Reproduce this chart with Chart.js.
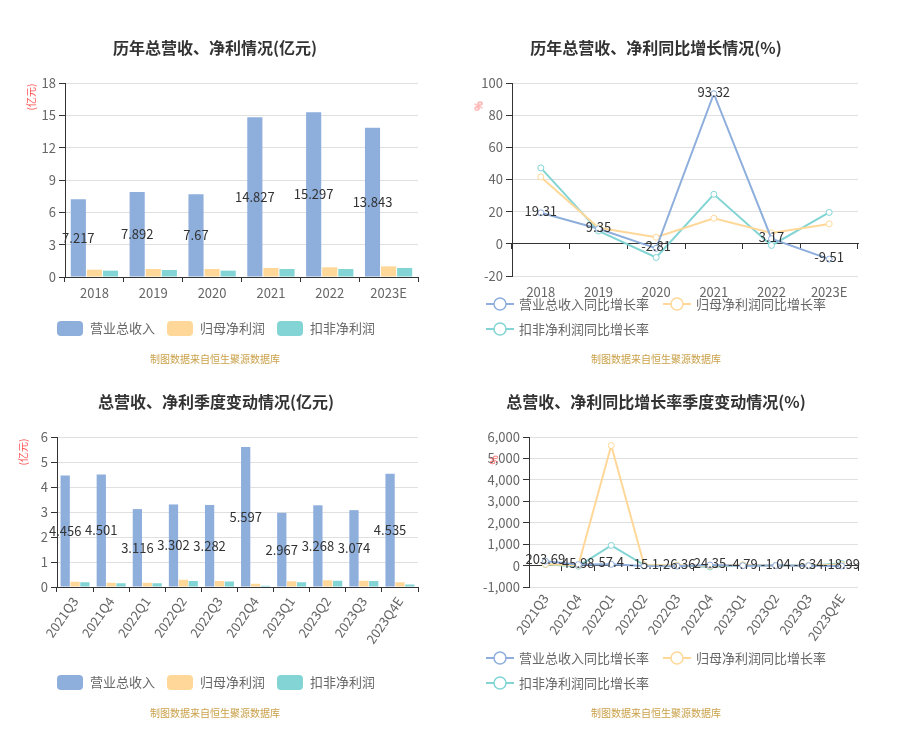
<!DOCTYPE html>
<html>
<head>
<meta charset="utf-8">
<script src="https://cdn.jsdelivr.net/npm/chart.js@4.4.0/dist/chart.umd.min.js"></script>
<style>
  html, body { margin: 0; padding: 0; background: #fff; }
  body { width: 903px; height: 729px; position: relative; overflow: hidden;
         font-family: "Noto Sans CJK SC", "Noto Sans", sans-serif; }
  canvas { position: absolute; }
  .title { position: absolute; font-weight: bold; font-size: 16px; color: #333; white-space: nowrap; transform: translate(-50%, -50%); }
  .src { position: absolute; font-size: 10px; color: #c9a048; white-space: nowrap; transform: translate(-50%, -50%); }
  .unit { position: absolute; font-size: 10px; color: #ff5050; white-space: nowrap; transform: translate(-50%, -50%) rotate(-90deg); }
  .lg { position: absolute; font-size: 13px; color: #666; white-space: nowrap; line-height: 16px; }
  .box { position: absolute; width: 26px; height: 15px; border-radius: 4px; }
  .icon { position: absolute; }
</style>
</head>
<body>
<canvas id="c1" width="450" height="365" style="left:0;top:0;width:450px;height:365px"></canvas>
<canvas id="c2" width="453" height="365" style="left:450px;top:0;width:453px;height:365px"></canvas>
<canvas id="c3" width="450" height="364" style="left:0;top:365px;width:450px;height:364px"></canvas>
<canvas id="c4" width="453" height="364" style="left:450px;top:365px;width:453px;height:364px"></canvas>
<div id="overlay"></div>
<script>
// ---------- data ----------
const years = ['2018', '2019', '2020', '2021', '2022', '2023E'];
const yearRevenue = [7.217, 7.892, 7.67, 14.827, 15.297, 13.843];
const yearNetProfit = [0.68, 0.74, 0.74, 0.84, 0.90, 0.99];
const yearDeductedProfit = [0.59, 0.65, 0.59, 0.74, 0.74, 0.84];

const yearRevenueGrowth = [19.31, 9.35, -2.81, 93.32, 3.17, -9.51];
const yearNetProfitGrowth = [41.6, 10.0, 4.1, 15.9, 6.8, 12.4];
const yearDeductedGrowth = [47.2, 8.0, -8.5, 30.8, -1.0, 19.5];

const quarters = ['2021Q3', '2021Q4', '2022Q1', '2022Q2', '2022Q3', '2022Q4', '2023Q1', '2023Q2', '2023Q3', '2023Q4E'];
const qRevenue = [4.456, 4.501, 3.116, 3.302, 3.282, 5.597, 2.967, 3.268, 3.074, 4.535];
const qNetProfit = [0.21, 0.17, 0.17, 0.29, 0.24, 0.13, 0.23, 0.27, 0.25, 0.19];
const qDeductedProfit = [0.19, 0.15, 0.15, 0.24, 0.22, 0.05, 0.19, 0.25, 0.24, 0.10];

const qRevenueGrowth = [203.69, 45.98, 57.4, -15.1, -26.36, 24.35, -4.79, -1.04, -6.34, -18.99];
const qNetProfitGrowth = [60, 20, 5600, 30, 14, -24, 35, -7, 4, 46];
const qDeductedGrowth = [50, -30, 940, 26, 16, -67, 27, 4, 9, 100];

const yTicks1 = { min: 0, max: 18, step: 3 };
const yTicks2 = { min: -20, max: 100, step: 20 };
const yTicks3 = { min: 0, max: 6, step: 1 };
const yTicks4 = { min: -1000, max: 6000, step: 1000 };

// ---------- styles ----------
const BLUE = '#8eaedc', ORANGE = '#ffd899', TEAL = '#82d5d4';
const FONT = '"Noto Sans CJK SC", "Noto Sans", sans-serif';
Chart.defaults.font.family = FONT;
Chart.defaults.font.size = 13;
Chart.defaults.color = '#666';

const valueLabels = {
  id: 'valueLabels',
  afterDatasetsDraw(chart, args, opts) {
    const meta = chart.getDatasetMeta(0);
    const data = chart.data.datasets[0].data;
    const ctx = chart.ctx;
    ctx.save();
    ctx.font = '13px ' + FONT;
    ctx.fillStyle = '#333';
    ctx.textAlign = 'center';
    ctx.textBaseline = 'middle';
    meta.data.forEach((el, i) => {
      const p = el.getProps(['x', 'y', 'base'], true);
      const y = opts.mode === 'bar' ? (p.y + p.base) / 2 : p.y - 2;
      ctx.fillText(String(data[i]), p.x, y);
    });
    ctx.restore();
  }
};

function yAxis(t, width, fmt) {
  return {
    min: t.min, max: t.max,
    ticks: { stepSize: t.step, padding: 3, color: '#666', font: { size: 13 } },
    grid: { color: '#e0e0e0', tickColor: '#333', tickLength: 6, lineWidth: 1 },
    border: { color: '#333', width: 1 },
    afterFit(s) { s.width = width; }
  };
}

function barChart(id, labels, a, b, c, t, pad, yW, xH, rot) {
  return new Chart(document.getElementById(id), {
    type: 'bar',
    data: {
      labels,
      datasets: [
        { label: '营业总收入', data: a, backgroundColor: BLUE },
        { label: '归母净利润', data: b, backgroundColor: ORANGE },
        { label: '扣非净利润', data: c, backgroundColor: TEAL }
      ]
    },
    options: {
      responsive: false, animation: false,
      datasets: { bar: { categoryPercentage: 0.82, barPercentage: 0.94 } },
      layout: { padding: pad },
      plugins: { legend: { display: false }, tooltip: { enabled: false }, valueLabels: { mode: 'bar' } },
      scales: {
        x: {
          ticks: { color: '#666', padding: rot ? 2 : 3, minRotation: rot, maxRotation: rot, autoSkip: false, font: { size: 13 } },
          grid: { drawOnChartArea: false, tickColor: '#333', tickLength: 5, offset: true },
          border: { color: '#333', width: 1 },
          afterFit(s) { s.height = xH; }
        },
        y: yAxis(t, yW)
      }
    },
    plugins: [valueLabels]
  });
}

function lineChart(id, labels, a, b, c, t, pad, yW, xH, rot) {
  const ds = (label, data, color) => ({
    label, data, borderColor: color, backgroundColor: '#fff',
    borderWidth: 2, pointRadius: 3, pointBorderWidth: 1, pointBackgroundColor: '#fff',
    pointBorderColor: color, tension: 0
  });
  return new Chart(document.getElementById(id), {
    type: 'line',
    data: {
      labels,
      datasets: [
        ds('营业总收入同比增长率', a, BLUE),
        ds('归母净利润同比增长率', b, ORANGE),
        ds('扣非净利润同比增长率', c, TEAL)
      ]
    },
    options: {
      responsive: false, animation: false,
      layout: { padding: pad },
      plugins: { legend: { display: false }, tooltip: { enabled: false }, valueLabels: { mode: 'line' } },
      scales: {
        x: {
          offset: true,
          ticks: { color: '#666', padding: rot ? 4 : 8, minRotation: rot, maxRotation: rot, autoSkip: false, font: { size: 13 } },
          grid: { drawOnChartArea: false, drawTicks: false },
          border: { display: false },
          afterFit(s) { s.height = xH; }
        },
        x2: {
          type: 'category', labels, offset: true,
          position: { y: 0 },
          ticks: { display: false },
          grid: { drawOnChartArea: false, tickColor: '#333', tickLength: 5, offset: true },
          border: { color: '#333', width: 1 }
        },
        y: yAxis(t, yW)
      }
    },
    plugins: [valueLabels]
  });
}

barChart('c1', years, yearRevenue, yearNetProfit, yearDeductedProfit, yTicks1,
  { left: 25, top: 83, right: 32, bottom: 58 }, 40, 30, 0);
lineChart('c2', years, yearRevenueGrowth, yearNetProfitGrowth, yearDeductedGrowth, yTicks2,
  { left: 22, top: 83, right: 45, bottom: 59 }, 40, 30, 0);
barChart('c3', quarters, qRevenue, qNetProfit, qDeductedProfit, yTicks3,
  { left: 17, top: 72, right: 32, bottom: 82 }, 40, 60, 55);
lineChart('c4', quarters, qRevenueGrowth, qNetProfitGrowth, qDeductedGrowth, yTicks4,
  { left: 29, top: 72, right: 45, bottom: 82 }, 50, 60, 55);

// ---------- HTML text: titles, legends, sources, units ----------
const ov = document.getElementById('overlay');
function add(cls, text, x, y, extra) {
  const d = document.createElement('div');
  d.className = cls; d.textContent = text;
  d.style.left = x + 'px'; d.style.top = y + 'px';
  if (extra) Object.assign(d.style, extra);
  ov.appendChild(d); return d;
}
function boxItem(x, y, color, text) {
  const b = document.createElement('div');
  b.className = 'box'; b.style.left = x + 'px'; b.style.top = (y - 7.5) + 'px'; b.style.background = color;
  ov.appendChild(b);
  add('lg', text, x + 33, y - 8);
}
function lineItem(x, y, color, text) {
  const s = document.createElementNS('http://www.w3.org/2000/svg', 'svg');
  s.setAttribute('width', '28'); s.setAttribute('height', '16');
  s.setAttribute('class', 'icon');
  s.style.left = x + 'px'; s.style.top = (y - 8) + 'px';
  s.innerHTML = '<line x1="0" y1="8" x2="28" y2="8" stroke="' + color + '" stroke-width="2"/>' +
    '<circle cx="14" cy="8" r="6" fill="#fff" stroke="' + color + '" stroke-width="1.5"/>';
  ov.appendChild(s);
  add('lg', text, x + 33, y - 8);
}

add('title', '历年总营收、净利情况(亿元)', 215, 47);
add('title', '历年总营收、净利同比增长情况(%)', 656, 47);
add('title', '总营收、净利季度变动情况(亿元)', 216, 401);
add('title', '总营收、净利同比增长率季度变动情况(%)', 656, 401);

add('unit', '(亿元)', 30, 97);
add('unit', '(亿元)', 22, 452);
add('unit', '%', 478, 106);
add('unit', '%', 493, 460);

boxItem(57, 328, BLUE, '营业总收入');
boxItem(167, 328, ORANGE, '归母净利润');
boxItem(277, 328, TEAL, '扣非净利润');
boxItem(57, 682, BLUE, '营业总收入');
boxItem(167, 682, ORANGE, '归母净利润');
boxItem(277, 682, TEAL, '扣非净利润');

lineItem(486, 304, BLUE, '营业总收入同比增长率');
lineItem(663, 304, ORANGE, '归母净利润同比增长率');
lineItem(486, 329, TEAL, '扣非净利润同比增长率');
lineItem(486, 658, BLUE, '营业总收入同比增长率');
lineItem(663, 658, ORANGE, '归母净利润同比增长率');
lineItem(486, 683, TEAL, '扣非净利润同比增长率');

add('src', '制图数据来自恒生聚源数据库', 215, 358);
add('src', '制图数据来自恒生聚源数据库', 656, 358);
add('src', '制图数据来自恒生聚源数据库', 215, 712);
add('src', '制图数据来自恒生聚源数据库', 656, 712);
</script>
</body>
</html>
